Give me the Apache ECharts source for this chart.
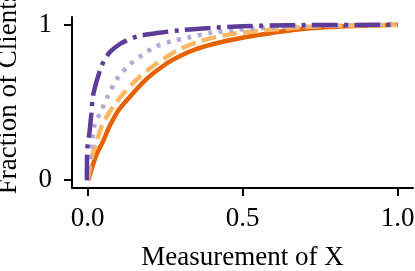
<!DOCTYPE html>
<html>
<head>
<meta charset="utf-8">
<script src="https://cdn.jsdelivr.net/npm/echarts@6/dist/echarts.min.js"></script>
<style>html,body{margin:0;padding:0;background:#fff}#c{width:415px;height:271px}</style>
</head>
<body>
<div id="c"></div>
<script>
// Data: [x, fraction]
const solidOrange = [[0.002,0],[0.01,0.05],[0.027,0.155],[0.05,0.25],[0.072,0.35],[0.10,0.45],[0.14,0.544],[0.19,0.65],[0.246,0.738],[0.30,0.80],[0.35,0.843],[0.40,0.873],[0.45,0.897],[0.50,0.917],[0.556,0.935],[0.62,0.955],[0.70,0.975],[0.80,0.988],[0.90,0.995],[1.0,1.0]];
const dashedOrange = [[0.001,0],[0.005,0.05],[0.015,0.155],[0.03,0.25],[0.046,0.35],[0.075,0.45],[0.11,0.544],[0.16,0.65],[0.214,0.738],[0.26,0.80],[0.30,0.845],[0.36,0.893],[0.45,0.935],[0.50,0.95],[0.60,0.97],[0.70,0.985],[0.80,0.993],[1.0,1.0]];
const dottedPurple = [[0.0,0],[0.003,0.08],[0.01,0.155],[0.016,0.25],[0.022,0.35],[0.045,0.45],[0.066,0.544],[0.095,0.65],[0.133,0.738],[0.18,0.81],[0.22,0.86],[0.27,0.893],[0.33,0.92],[0.40,0.948],[0.47,0.965],[0.55,0.978],[0.65,0.988],[0.80,0.995],[1.0,1.0]];
const dashDotPurple = [[-0.002,0],[-0.001,0.19],[0.006,0.3],[0.012,0.42],[0.018,0.544],[0.03,0.64],[0.046,0.738],[0.06,0.79],[0.075,0.83],[0.10,0.87],[0.12,0.893],[0.16,0.925],[0.22,0.945],[0.30,0.965],[0.40,0.98],[0.50,0.99],[0.65,0.997],[1.0,1.0]];
const xTickValues = [0, 0.5, 1.0];
const xTickLabels = ['0.0', '0.5', '1.0'];
const yTickValues = [0, 1];
const yTickLabels = ['0', '1'];
const xTitle = 'Measurement of X';
const yTitle = 'Fraction of Clients';

const FONT = "'Liberation Serif','Times New Roman',serif";
const chart = echarts.init(document.getElementById('c'), null, {renderer: 'canvas'});
const axisCommon = {
  axisLine: {show: true, onZero: false, lineStyle: {color: '#000', width: 2}},
  axisTick: {show: true, length: 8, lineStyle: {color: '#000', width: 2}},
  splitLine: {show: false}
};
function mk(name, data, color, type) {
  return {name, type: 'line', data, showSymbol: false, smooth: 0.3,
    lineStyle: {color, width: 4.5, type, cap: 'butt'}, itemStyle: {color}};
}
chart.setOption({
  animation: false,
  grid: {left: 72, right: 2, top: 17, bottom: 83, containLabel: false, outerBoundsMode: 'none'},
  xAxis: Object.assign({}, axisCommon, {
    type: 'value', min: -0.05, max: 1.05,
    axisTick: Object.assign({}, axisCommon.axisTick, {customValues: xTickValues}),
    axisLabel: {customValues: xTickValues, formatter: v => xTickLabels[xTickValues.indexOf(v)] ?? '', color: '#000', fontFamily: FONT, fontSize: 27, margin: 17},
    name: xTitle, nameLocation: 'middle', nameGap: 56,
    nameTextStyle: {color: '#000', fontFamily: FONT, fontSize: 27}
  }),
  yAxis: Object.assign({}, axisCommon, {
    type: 'value', min: -0.05, max: 1.05,
    axisTick: Object.assign({}, axisCommon.axisTick, {customValues: yTickValues}),
    axisLabel: {customValues: yTickValues, formatter: v => yTickLabels[yTickValues.indexOf(v)] ?? '', color: '#000', fontFamily: FONT, fontSize: 27, margin: 20}
  }),
  graphic: [{type: 'text', x: 9, y: 93, rotation: Math.PI / 2,
    style: {text: yTitle, fill: '#000', font: '27px ' + FONT, align: 'center', verticalAlign: 'middle'}}],
  series: [
    mk('solid', solidOrange, '#e66101', 'solid'),
    mk('dashed', dashedOrange, '#fdb863', [14.8, 6.4]),
    mk('dotted', dottedPurple, '#b2abd2', [4, 6.6]),
    mk('dashdot', dashDotPurple, '#5e3c99', [25.6, 6.4, 4, 6.4])
  ]
});
</script>
</body>
</html>
